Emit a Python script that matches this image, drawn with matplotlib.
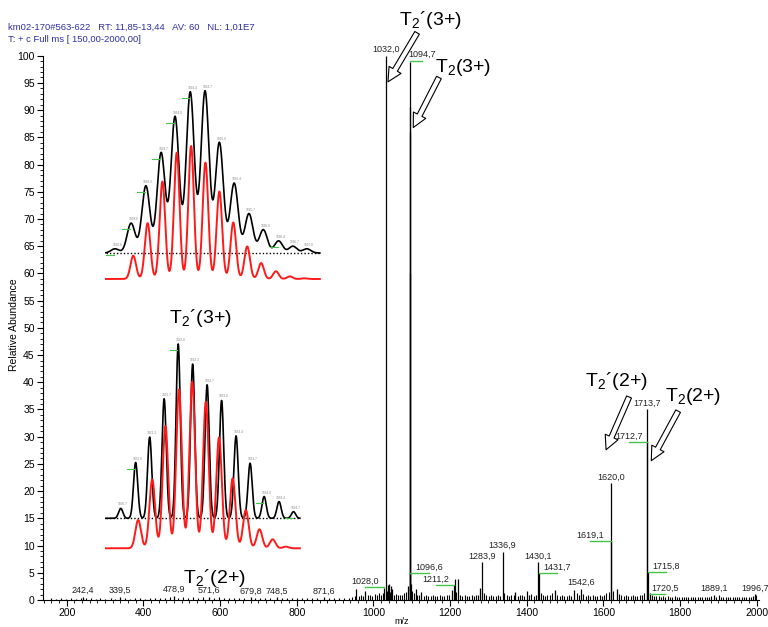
import numpy as np
import matplotlib
matplotlib.use("Agg")
from matplotlib import pyplot as plt
from matplotlib.ticker import MultipleLocator

plt.rcParams['font.family'] = ['Liberation Sans', 'DejaVu Sans']
plt.rcParams['mathtext.fontset'] = 'custom'
plt.rcParams['mathtext.rm'] = 'Liberation Sans'
plt.rcParams['mathtext.it'] = 'Liberation Sans:italic'

HEADER_1 = "km02-170#563-622   RT: 11,85-13,44   AV: 60   NL: 1,01E7"
HEADER_2 = "T: + c Full ms [ 150,00-2000,00]"

# main spectrum, labelled / visible peaks (m/z, relative abundance)
peak_mz = [242.4, 339.5, 478.9, 571.6, 679.8, 748.5, 871.6,
           955.0, 979.0, 1028.0, 1032.0, 1037.0, 1041.0, 1045.0, 1049.0,
           1090.0, 1094.4, 1094.7, 1095.0, 1095.4, 1096.6, 1099.0, 1111.0, 1125.0,
           1204.0, 1211.2, 1213.5, 1220.0, 1278.0, 1283.9, 1336.9, 1370.0, 1400.0,
           1430.1, 1431.7, 1474.0, 1524.0, 1542.6, 1619.1, 1620.0, 1635.0,
           1712.7, 1713.7, 1715.8, 1720.5, 1889.1, 1996.7]
peak_int = [0.6, 0.6, 0.8, 0.6, 0.5, 0.5, 0.5,
            2.0, 1.7, 2.2, 100.0, 2.8, 3.0, 2.5, 2.0,
            2.6, 86.0, 98.8, 90.6, 60.0, 5.0, 3.0, 2.0, 1.5,
            1.8, 2.8, 3.9, 3.9, 2.2, 6.9, 8.9, 1.4, 1.6,
            6.9, 4.9, 1.8, 1.8, 2.1, 10.9, 21.5, 2.0,
            29.0, 35.1, 5.2, 1.3, 1.0, 1.1]

# baseline grass (m/z, relative abundance)
grass = [(160, 0.3), (172, 0.2), (185, 0.3), (198, 0.2), (210, 0.3), (223, 0.2), (236, 0.4),
         (250, 0.3), (262, 0.3), (275, 0.2), (288, 0.3), (301, 0.2), (315, 0.3), (327, 0.2),
         (352, 0.3), (365, 0.2), (378, 0.3), (391, 0.3), (404, 0.2), (417, 0.3), (430, 0.4),
         (443, 0.3), (456, 0.4), (469, 0.5), (490, 0.4), (503, 0.5), (516, 0.4), (529, 0.5),
         (542, 0.4), (555, 0.5), (584, 0.4), (597, 0.5), (610, 0.4), (623, 0.3), (636, 0.4),
         (649, 0.3), (662, 0.4), (692, 0.3), (705, 0.4), (718, 0.3), (731, 0.3), (761, 0.3),
         (774, 0.4), (787, 0.3), (800, 0.3), (813, 0.4), (826, 0.3), (839, 0.3), (852, 0.4),
         (884, 0.3), (897, 0.4), (910, 0.3), (923, 0.4), (936, 0.3),
         (944, 0.6), (951, 0.8), (962, 0.7), (968, 0.9), (974, 0.8), (986, 0.9), (991, 1.0),
         (997, 0.8), (1003, 1.1), (1009, 0.9), (1014, 1.2), (1020, 1.0), (1024, 1.3),
         (1036, 1.6), (1043, 1.4), (1047, 1.2), (1053, 1.0), (1058, 1.1), (1064, 0.9),
         (1070, 1.0), (1075, 0.9), (1081, 1.2), (1086, 1.4), (1100, 1.6), (1106, 1.2),
         (1114, 1.0), (1119, 0.9), (1131, 0.8), (1137, 0.9), (1143, 0.7), (1149, 0.8),
         (1155, 0.9), (1161, 0.7), (1167, 0.8), (1173, 0.9), (1179, 0.7), (1185, 0.8),
         (1191, 0.9), (1197, 1.0), (1215, 1.4), (1226, 1.0), (1232, 0.8), (1238, 0.9),
         (1244, 0.7), (1250, 0.8), (1256, 0.9), (1262, 0.8), (1268, 0.9), (1273, 1.0),
         (1289, 1.2), (1295, 0.9), (1301, 0.8), (1307, 0.9), (1313, 0.7), (1319, 0.8),
         (1325, 0.9), (1331, 0.8), (1342, 1.3), (1348, 1.0), (1354, 0.8), (1360, 0.9),
         (1366, 1.0), (1376, 0.8), (1382, 0.9), (1388, 1.0), (1394, 0.8), (1406, 0.9),
         (1412, 1.1), (1418, 0.8), (1424, 1.0), (1436, 1.2), (1442, 1.0), (1448, 0.8),
         (1454, 0.9), (1460, 1.0), (1466, 1.2), (1480, 1.0), (1486, 0.8), (1492, 0.9),
         (1498, 0.7), (1504, 0.8), (1510, 0.9), (1516, 0.8), (1530, 1.3), (1536, 1.0),
         (1548, 1.1), (1554, 0.8), (1560, 0.9), (1566, 0.8), (1572, 0.9), (1578, 0.7),
         (1584, 0.8), (1590, 0.9), (1596, 0.8), (1602, 1.0), (1608, 1.2), (1614, 1.5),
         (1626, 1.6), (1641, 1.1), (1647, 0.9), (1653, 0.8), (1659, 0.9), (1665, 0.7),
         (1671, 0.8), (1677, 0.9), (1683, 0.7), (1689, 0.8), (1695, 0.9), (1701, 1.0),
         (1707, 1.3), (1726, 1.0), (1732, 0.8), (1738, 0.7), (1744, 0.8), (1750, 0.6),
         (1756, 0.7), (1762, 0.6), (1768, 0.7), (1774, 0.5), (1780, 0.6), (1786, 0.7),
         (1792, 0.5), (1798, 0.6), (1804, 0.5), (1810, 0.6), (1816, 0.5), (1822, 0.6),
         (1828, 0.5), (1834, 0.6), (1840, 0.5), (1846, 0.6), (1852, 0.5), (1858, 0.6),
         (1864, 0.5), (1870, 0.6), (1876, 0.5), (1882, 0.7), (1895, 0.6), (1901, 0.9),
         (1907, 0.6), (1913, 0.5), (1919, 0.6), (1925, 0.5), (1931, 0.6), (1937, 0.5),
         (1943, 0.6), (1949, 0.5), (1955, 0.6), (1961, 0.5), (1967, 0.6), (1973, 0.5),
         (1979, 0.6), (1985, 0.5), (1991, 0.7), (1999, 0.9)]

# labels placed straight above the peak
plain_labels = [242.4, 339.5, 478.9, 571.6, 679.8, 748.5, 871.6, 1032.0,
                1283.9, 1336.9, 1430.1, 1542.6, 1620.0, 1713.7, 1889.1, 1996.7]
# labels moved aside, with a green leader line
green_labels = [1028.0, 1094.7, 1096.6, 1211.2, 1431.7, 1619.1, 1712.7, 1715.8, 1720.5]
green_text_x = [978, 1127, 1146, 1164, 1479, 1565, 1668, 1764, 1761]
green_line_y = [2.4, 99.1, 5.0, 2.8, 4.9, 10.8, 29.0, 5.2, 1.1]

# inset T2(3+): observed (black) and simulated (red) isotope pattern, % of max
up_obs_mz = [1092.63, 1093.00, 1093.34, 1093.69, 1094.01, 1094.36, 1094.70,
             1095.03, 1095.37, 1095.71, 1096.04, 1096.39, 1096.72, 1097.04]
up_obs_int = [2.6, 18.4, 41.5, 61.9, 84.2, 99.4, 100.0, 68.2, 43.1, 24.3, 14.4, 7.5, 4.2, 2.6]
up_sim_mz = [1093.05, 1093.38, 1093.72, 1094.05, 1094.38, 1094.71, 1095.03,
             1095.35, 1095.67, 1095.99, 1096.33, 1096.65, 1096.98]
up_sim_int = [17.5, 42.0, 73.3, 95.0, 100.0, 87.5, 65.8, 42.5, 24.5, 12.0, 5.8, 2.0, 0.5]

# inset T2'(3+)
lo_obs_mz = [1030.65, 1031.00, 1031.33, 1031.67, 1032.00, 1032.34, 1032.68,
             1033.02, 1033.36, 1033.69, 1034.02, 1034.37, 1034.71]
lo_obs_int = [5.7, 32.0, 46.6, 68.6, 100.0, 88.5, 76.6, 67.6, 47.3, 31.6, 12.5, 9.6, 3.8]
lo_sim_mz = [1031.06, 1031.39, 1031.70, 1032.02, 1032.33, 1032.65,
             1032.96, 1033.28, 1033.59, 1033.91, 1034.22, 1034.53]
lo_sim_int = [17.0, 41.4, 73.4, 95.4, 100.0, 88.0, 66.6, 42.0, 23.0, 11.4, 5.4, 1.0]

GREEN = '#45c545'
HEADER_BLUE = '#2e2ea8'


def fmt(mz):
    return f"{mz:.1f}".replace('.', ',')


def profile(x, centers, heights, sigma):
    y = np.zeros_like(x)
    for c, h in zip(centers, heights):
        y += h * np.exp(-0.5 * ((x - c) / sigma) ** 2)
    return y


fig = plt.figure(figsize=(7.68, 6.27), dpi=100)

ax = fig.add_axes([43 / 768, 1 - 600 / 627, 716 / 768, 544.3 / 627])
ax.set_xlim(138, 2006)
ax.set_ylim(0, 100)

g_mz = [g[0] for g in grass]
g_int = [g[1] for g in grass]
ax.vlines(g_mz, 0, g_int, color='black', lw=0.8)
ax.vlines(peak_mz, 0, peak_int, color='black', lw=0.9)

height_of = dict(zip(peak_mz, peak_int))
for mz in plain_labels:
    ax.text(mz, height_of[mz] + 0.3, fmt(mz), fontsize=6.5, ha='center', va='bottom',
            color='#222222', clip_on=False)
for mz, tx, ly in zip(green_labels, green_text_x, green_line_y):
    ax.plot([min(mz, tx), max(mz, tx)], [ly, ly], color=GREEN, lw=1.0)
    ax.text(tx, ly + 0.25, fmt(mz), fontsize=6.5, ha='center', va='bottom',
            color='#222222', clip_on=False)

for side in ['top', 'right']:
    ax.spines[side].set_visible(False)
ax.xaxis.set_major_locator(MultipleLocator(200))
ax.xaxis.set_minor_locator(MultipleLocator(20))
ax.yaxis.set_major_locator(MultipleLocator(5))
ax.yaxis.set_minor_locator(MultipleLocator(1))
ax.tick_params(which='major', direction='out', length=4, width=0.8, labelsize=7.5, pad=2)
ax.tick_params(which='minor', direction='out', length=2.5, width=0.6)
ax.set_xticks(range(200, 2001, 200))

fig.text(402 / 768, 1 - 622 / 627, "m/z", fontsize=6.5, ha='center', va='center')
fig.text(14 / 768, 1 - 325 / 627, "Relative Abundance", fontsize=7.5, rotation=90,
         ha='center', va='center')
fig.text(8 / 768, 1 - 27 / 627, HEADER_1, fontsize=6.8, color=HEADER_BLUE, va='center')
fig.text(8 / 768, 1 - 40 / 627, HEADER_2, fontsize=6.8, color=HEADER_BLUE, va='center')

# hollow arrows and species names
arrow_style = dict(arrowstyle='simple,head_length=1.0,head_width=1.0,tail_width=0.38',
                   fc='white', ec='black', lw=0.8, shrinkA=0, shrinkB=0, mutation_scale=10)
arrows = [((1114, 104.2), (1038, 95.2)), ((1171, 96.0), (1104, 86.8)),
          ((1667, 37.3), (1607, 27.6)), ((1795, 34.7), (1725, 25.6))]
for tail, tip in arrows:
    ax.annotate('', xy=tip, xytext=tail, arrowprops=arrow_style, annotation_clip=False)

big = 14
ax.text(1148, 106.6, "T$_2$´(3+)", fontsize=big, ha='center', va='center', clip_on=False)
ax.text(1234, 97.8, "T$_2$(3+)", fontsize=big, ha='center', va='center', clip_on=False)
ax.text(1634, 40.3, "T$_2$´(2+)", fontsize=big, ha='center', va='center')
ax.text(1835, 37.3, "T$_2$(2+)", fontsize=big, ha='center', va='center')
ax.text(548, 51.8, "T$_2$´(3+)", fontsize=big, ha='center', va='center')
ax.text(585, 4.1, "T$_2$´(2+)", fontsize=big, ha='center', va='center')


def draw_inset(box, xlim, obs_mz, obs_int, sim_mz, sim_int,
               obs_base, obs_amp, sim_base, sim_amp, obs_sigma, sim_sigma, green_idx):
    ia = fig.add_axes(box)
    ia.set_xlim(*xlim)
    ia.set_ylim(0, box[3] * 627)
    ia.axis('off')
    x = np.linspace(xlim[0] + 0.02, xlim[1] - 0.05, 1500)
    yo = obs_base + profile(x, obs_mz, obs_int, obs_sigma) * obs_amp / 100
    ys = sim_base + profile(x, sim_mz, sim_int, sim_sigma) * sim_amp / 100
    ia.plot(x, yo, color='black', lw=1.2)
    ia.plot([x[0], x[-1]], [obs_base, obs_base], color='black', lw=1.0, ls=(0, (1, 1.5)))
    ia.plot(x, ys, color='#ff1a1a', lw=1.4)
    for i, (mz, h) in enumerate(zip(obs_mz, obs_int)):
        ty = obs_base + h * obs_amp / 100 + 2
        ia.text(mz + 0.05, ty, f"{mz:.1f}", fontsize=2.3, color='#888888',
                ha='center', va='bottom')
        if i in green_idx:
            ia.plot([mz - 0.2, mz - 0.02], [ty - 8, ty - 8], color=GREEN, lw=0.8)


draw_inset([105 / 768, 1 - 282 / 627, 217 / 768, 202 / 627], (1092.40, 1097.39),
           up_obs_mz, up_obs_int, up_sim_mz, up_sim_int,
           29, 162, 3, 133, 0.092, 0.064, [0, 1, 2, 3, 4, 5, 11])
draw_inset([105 / 768, 1 - 551 / 627, 197 / 768, 211 / 627], (1030.28, 1034.91),
           lo_obs_mz, lo_obs_int, lo_sim_mz, lo_sim_int,
           32.7, 174.3, 2.7, 166.6, 0.050, 0.066, [1, 4, 10, 12])

fig.savefig("out.png", dpi=100)
